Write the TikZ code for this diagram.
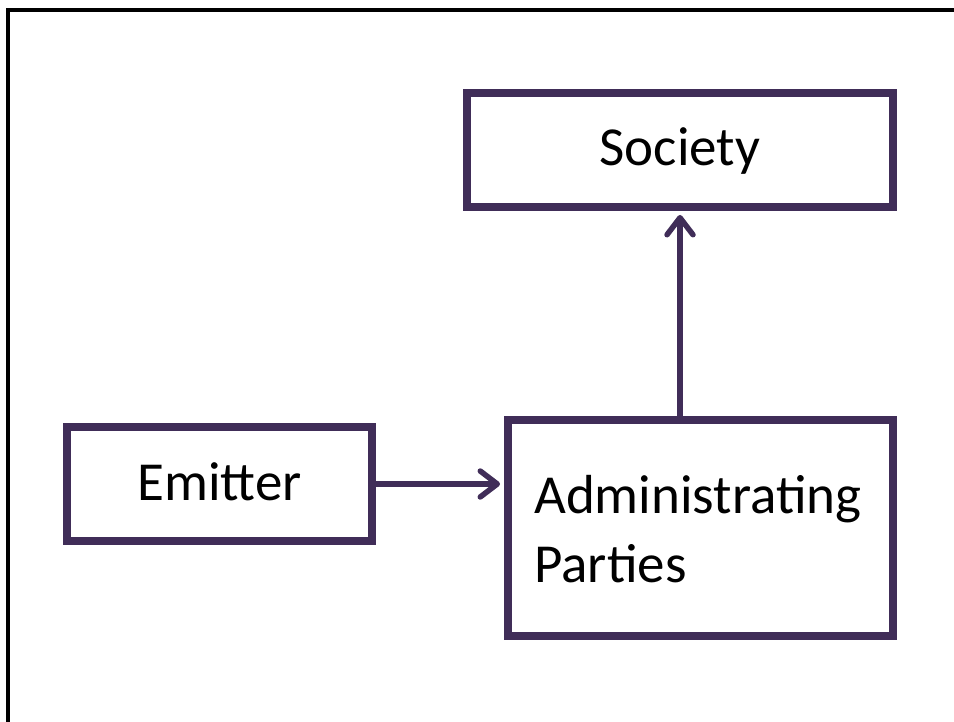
\documentclass[tikz,border=0pt]{standalone}
\usepackage{fontspec}
\setmainfont{Carlito}
\usetikzlibrary{arrows.meta}
\definecolor{boxpurple}{RGB}{64,45,88}
\begin{document}
\begin{tikzpicture}[x=1pt,y=-1pt,
  box/.style={draw=boxpurple, line width=8pt, rectangle, inner sep=0pt,
    font=\fontsize{55}{69}\selectfont, text height=40pt, text depth=8pt},
  conn/.style={draw=boxpurple, line width=5.5pt,
    -{Straight Barb[length=17pt,width=26pt,round]}, shorten >=4pt},
  frame/.style={draw=black, line width=3.5pt}]
\useasboundingbox (0,0) rectangle (954,722);
\draw[frame] (8,722) -- (8,10) -- (954,10);
\node[box, minimum width=426pt, minimum height=114pt] (so) at (680,150) {Society};
\node[box, minimum width=305pt, minimum height=114pt] (em) at (219.5,484) {Emitter};
\node[box, minimum width=385pt, minimum height=216pt] (ad) at (700.5,528) {};
\node[anchor=base west, align=left, inner sep=0pt,
  font=\fontsize{55}{69}\selectfont] (adt) at (534,582) {Administrating\\Parties};
\draw[conn] (em.east) -- (ad.west |- em.east);
\draw[conn] (so.south |- ad.north) -- (so.south);
\end{tikzpicture}
\end{document}
